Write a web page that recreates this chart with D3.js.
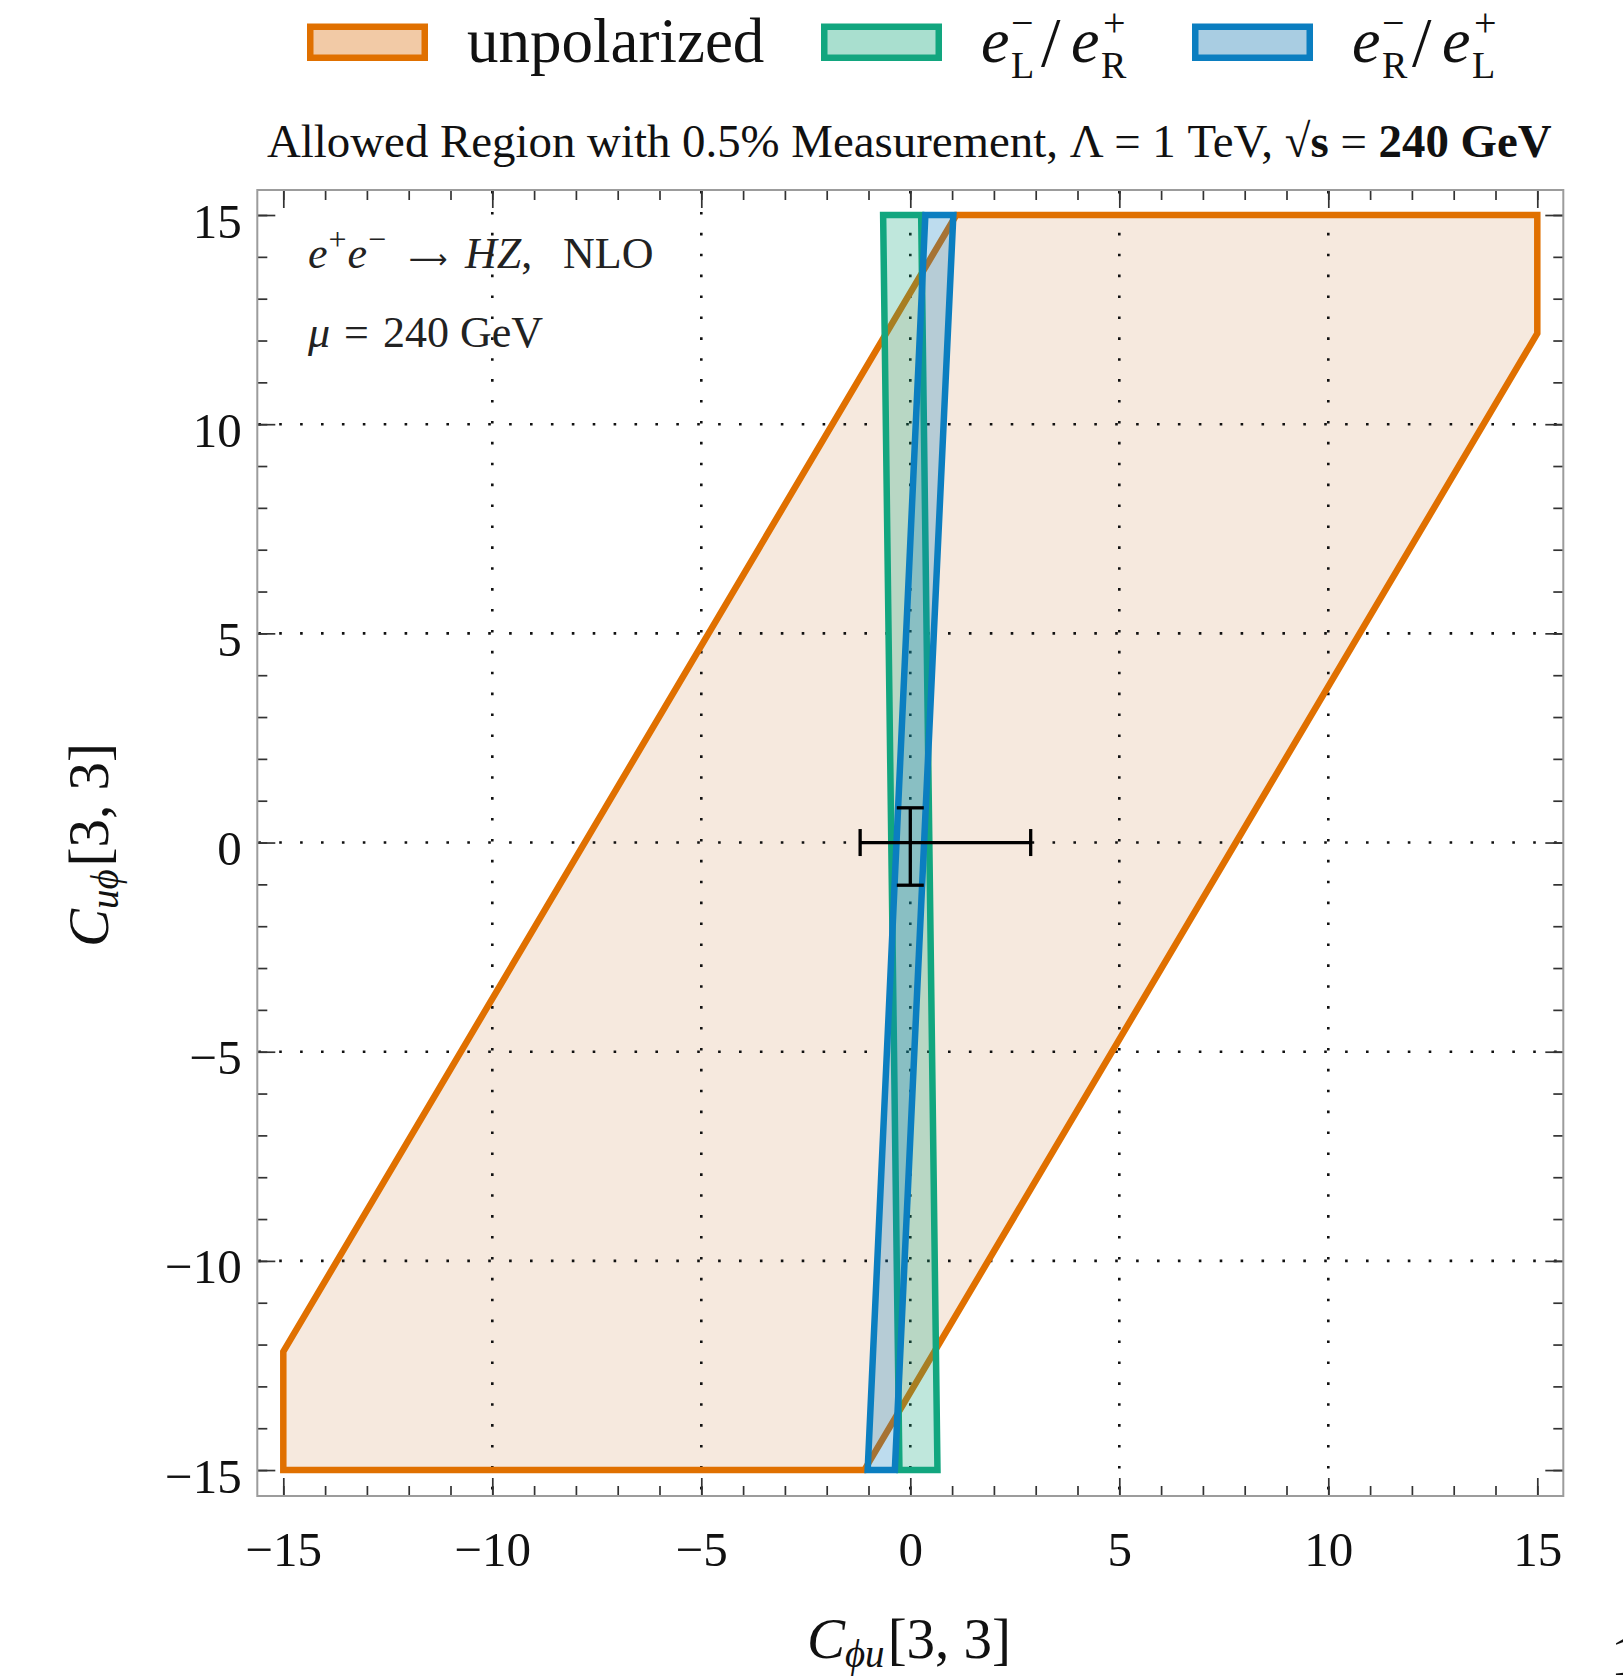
<!DOCTYPE html>
<html><head><meta charset="utf-8">
<script src="https://cdn.jsdelivr.net/npm/d3@7"></script>
<style>body{margin:0;background:#fff} svg{display:block;font-family:"Liberation Serif",serif}</style>
</head><body><svg id="c" width="1623" height="1677"></svg>
<script>
// ---------- data ----------
const majorTicks = [-15, -10, -5, 0, 5, 10, 15];
const minorTicks = [-15,-14,-13,-12,-11,-10,-9,-8,-7,-6,-5,-4,-3,-2,-1,0,1,2,3,4,5,6,7,8,9,10,11,12,13,14,15];
const gridValues = [-10, -5, 0, 5, 10];
const seriesNames = ["unpolarized", "eLeR", "eReL"];
const unpolarized = [[-15,-15],[-15,-12.17],[1.1,15],[15,15],[15,12.17],[-1.1,-15]];
const eLeR = [[-0.65,15],[0.26,15],[0.65,-15],[-0.26,-15]];
const eReL = [[0.36,15],[1.03,15],[-0.37,-15],[-1.02,-15]];
const bestFit = [0, 0];
const xErr = [-1.2, 2.88];
const yErr = [-1.02, 0.83];

const strokeCol = {unpolarized:"#E07000", eLeR:"#12A67F", eReL:"#0B7EC0"};
const legendFill = {unpolarized:"#F2CAA6", eLeR:"#A9DFCF", eReL:"#A9CDE2"};

// ---------- setup ----------
const svg = d3.select("#c");
const x = d3.scaleLinear().domain([-15.622, 15.622]).range([257.3, 1563.3]);
const y = d3.scaleLinear().domain([-15.62, 15.598]).range([1496, 190]);
const X0 = x.range()[0], X1 = x.range()[1], Y0 = y.range()[0], Y1 = y.range()[1];
const fmt = d => d < 0 ? "\u2212" + Math.abs(d) : String(d);
const line = d3.line().x(d => x(d[0])).y(d => y(d[1]));

// unpolarized fill (underneath grid)
svg.append("path").attr("d", line(unpolarized) + "Z").attr("fill", "#F6E9DE").attr("stroke", "none");

// grid
const grid = svg.append("g").attr("stroke", "#111").attr("stroke-width", 2.6)
  .attr("stroke-dasharray", "2.6,18.3").attr("stroke-linecap", "butt");
grid.selectAll(".gv").data(gridValues).join("line").attr("class","gv")
  .attr("x1", d => x(d)).attr("x2", d => x(d)).attr("y1", Y1 + 1).attr("y2", Y0);
grid.selectAll(".gh").data(gridValues).join("line").attr("class","gh")
  .attr("y1", d => y(d)).attr("y2", d => y(d)).attr("x1", X0 + 1).attr("x2", X1);

// region outlines / translucent polarized regions
const regions = [
  {key:"unpolarized", pts:unpolarized, fill:"none", op:0},
  {key:"eLeR", pts:eLeR, fill:"#12A67F", op:0.27},
  {key:"eReL", pts:eReL, fill:"#0B7EC0", op:0.27}
];
svg.append("g").selectAll("path").data(regions).join("path")
  .attr("d", d => line(d.pts) + "Z")
  .attr("fill", d => d.fill).attr("fill-opacity", d => d.op)
  .attr("stroke", d => strokeCol[d.key]).attr("stroke-width", 6.5)
  .attr("stroke-linejoin", "miter");

// error bars
const eb = svg.append("g").attr("stroke", "#000").attr("stroke-width", 3.3);
const cap = 13.5;
eb.append("line").attr("x1", x(xErr[0])).attr("x2", x(xErr[1])).attr("y1", y(bestFit[1])).attr("y2", y(bestFit[1]));
eb.selectAll(".hc").data(xErr).join("line").attr("class","hc")
  .attr("x1", d => x(d)).attr("x2", d => x(d)).attr("y1", y(bestFit[1]) - cap).attr("y2", y(bestFit[1]) + cap);
eb.append("line").attr("y1", y(yErr[0])).attr("y2", y(yErr[1])).attr("x1", x(bestFit[0])).attr("x2", x(bestFit[0]));
eb.selectAll(".vc").data(yErr).join("line").attr("class","vc")
  .attr("y1", d => y(d)).attr("y2", d => y(d)).attr("x1", x(bestFit[0]) - cap).attr("x2", x(bestFit[0]) + cap);

// axes (ticks on all four sides)
function styleAxis(g, showLabels, side) {
  g.select(".domain").remove();
  g.selectAll(".tick line").attr("stroke", "#333").attr("stroke-width", 1.7);
  if (!showLabels) g.selectAll("text").remove();
  else {
    g.selectAll("text").attr("font-family", "Liberation Serif").attr("font-size", 49).attr("fill", "#111");
    if (side === "bottom") g.selectAll("text").attr("y", 70).attr("dy", 0);
    if (side === "left") g.selectAll("text").attr("x", -15.6).attr("dy", 22);
  }
}
const gb = svg.append("g").attr("transform", `translate(0,${Y0})`);
gb.append("g").call(d3.axisBottom(x).tickValues(minorTicks).tickSize(-10).tickFormat("")).call(g => styleAxis(g, false));
gb.append("g").call(d3.axisBottom(x).tickValues(majorTicks).tickSize(-18).tickFormat(fmt)).call(g => styleAxis(g, true, "bottom"));
const gt = svg.append("g").attr("transform", `translate(0,${Y1})`);
gt.append("g").call(d3.axisTop(x).tickValues(minorTicks).tickSize(-10).tickFormat("")).call(g => styleAxis(g, false));
gt.append("g").call(d3.axisTop(x).tickValues(majorTicks).tickSize(-18).tickFormat("")).call(g => styleAxis(g, false));
const gl = svg.append("g").attr("transform", `translate(${X0},0)`);
gl.append("g").call(d3.axisLeft(y).tickValues(minorTicks).tickSize(-10).tickFormat("")).call(g => styleAxis(g, false));
gl.append("g").call(d3.axisLeft(y).tickValues(majorTicks).tickSize(-18).tickFormat(fmt)).call(g => styleAxis(g, true, "left"));
const gr = svg.append("g").attr("transform", `translate(${X1},0)`);
gr.append("g").call(d3.axisRight(y).tickValues(minorTicks).tickSize(-10).tickFormat("")).call(g => styleAxis(g, false));
gr.append("g").call(d3.axisRight(y).tickValues(majorTicks).tickSize(-18).tickFormat("")).call(g => styleAxis(g, false));

// frame
svg.append("rect").attr("x", X0).attr("y", Y1).attr("width", X1 - X0).attr("height", Y0 - Y1)
  .attr("fill", "none").attr("stroke", "#9c9c9c").attr("stroke-width", 2);

// inset text
const t1 = svg.append("text").attr("x", 308).attr("y", 268).attr("font-size", 44).attr("fill", "#222");
t1.append("tspan").attr("font-style", "italic").text("e");
t1.append("tspan").attr("font-size", 32).attr("dy", -18).attr("dx", 1).text("+");
t1.append("tspan").attr("font-style", "italic").attr("dy", 18).attr("dx", 1).text("e");
t1.append("tspan").attr("font-size", 32).attr("dy", -18).attr("dx", 1).text("\u2212");
t1.append("tspan").attr("x", 409).attr("dy", 18).attr("font-family", "DejaVu Sans").attr("font-size", 27).text("\u27F6");
t1.append("tspan").attr("x", 465).attr("font-style", "italic").text("HZ");
t1.append("tspan").text(",");
t1.append("tspan").attr("x", 563).text("NLO");
const t2 = svg.append("text").attr("x", 308).attr("y", 347).attr("font-size", 44).attr("fill", "#222");
t2.append("tspan").attr("font-style", "italic").text("\u03BC");
t2.append("tspan").attr("x", 344).text("=");
t2.append("tspan").attr("x", 383).text("240 GeV");

// title
const title = svg.append("text").attr("x", 267).attr("y", 157).attr("font-size", 37).attr("fill", "#111");
title.append("tspan").text("Allowed Region with 0.5% Measurement,  \u039B = 1 TeV,  \u221A");
title.append("tspan").attr("font-weight", "bold").text("s");
title.append("tspan").text(" = ");
title.append("tspan").attr("font-weight", "bold").text("240 GeV");
{
  const w = title.node().getComputedTextLength();
  title.attr("font-size", 37 * 1285 / w);
}

// axis labels
const xl = svg.append("text").attr("x", 909).attr("y", 1658).attr("text-anchor", "middle").attr("font-size", 57).attr("fill", "#111");
xl.append("tspan").attr("font-style", "italic").text("C");
xl.append("tspan").attr("font-style", "italic").attr("font-size", 39).attr("dy", 9).text("\u03D5u");
xl.append("tspan").attr("dy", -9).attr("dx", 3).text("[3, 3]");
const yl = svg.append("text").attr("transform", "translate(108,845) rotate(-90)").attr("text-anchor", "middle").attr("font-size", 57).attr("fill", "#111");
yl.append("tspan").attr("font-style", "italic").text("C");
yl.append("tspan").attr("font-style", "italic").attr("font-size", 39).attr("dy", 10).text("u\u03D5");
yl.append("tspan").attr("dy", -10).attr("dx", 3).text("[3, 3]");

// page number fragment (cut at the page edge, as in the reference)
svg.append("text").attr("x", 1611).attr("y", 1675).attr("font-size", 56).attr("fill", "#111").text("1");

// legend
const legendX = [307, 821, 1192];
const legendTextX = [467, 981, 1352];
const legendSub = [null, ["L","R"], ["R","L"]];
const pieceOffset = {e1:0, sub1:30, slash:60, e2:90, sub2:120};
const lg = svg.append("g");
seriesNames.forEach((k, i) => {
  lg.append("rect").attr("x", legendX[i] + 3.25).attr("y", 26.75).attr("width", 114.5).attr("height", 31)
    .attr("fill", legendFill[k]).attr("stroke", strokeCol[k]).attr("stroke-width", 6.5);
  const bx = legendTextX[i], by = 62;
  if (!legendSub[i]) {
    lg.append("text").attr("x", bx).attr("y", by).attr("font-size", 63).attr("fill", "#111").text("unpolarized");
    return;
  }
  const subs = legendSub[i];
  lg.append("text").attr("x", bx + pieceOffset.e1).attr("y", by).attr("font-size", 64).attr("font-style", "italic").attr("fill", "#111").text("e");
  lg.append("text").attr("x", bx + pieceOffset.sub1).attr("y", by - 26).attr("font-size", 40).attr("fill", "#111").text("\u2212");
  lg.append("text").attr("x", bx + pieceOffset.sub1).attr("y", by + 16).attr("font-size", 38).attr("fill", "#111").text(subs[0]);
  lg.append("text").attr("x", bx + pieceOffset.slash).attr("y", by + 4).attr("font-size", 70).attr("fill", "#111").text("/");
  lg.append("text").attr("x", bx + pieceOffset.e2).attr("y", by).attr("font-size", 64).attr("font-style", "italic").attr("fill", "#111").text("e");
  lg.append("text").attr("x", bx + pieceOffset.sub2 + 2).attr("y", by - 26).attr("font-size", 40).attr("fill", "#111").text("+");
  lg.append("text").attr("x", bx + pieceOffset.sub2).attr("y", by + 16).attr("font-size", 38).attr("fill", "#111").text(subs[1]);
});
</script></body></html>
